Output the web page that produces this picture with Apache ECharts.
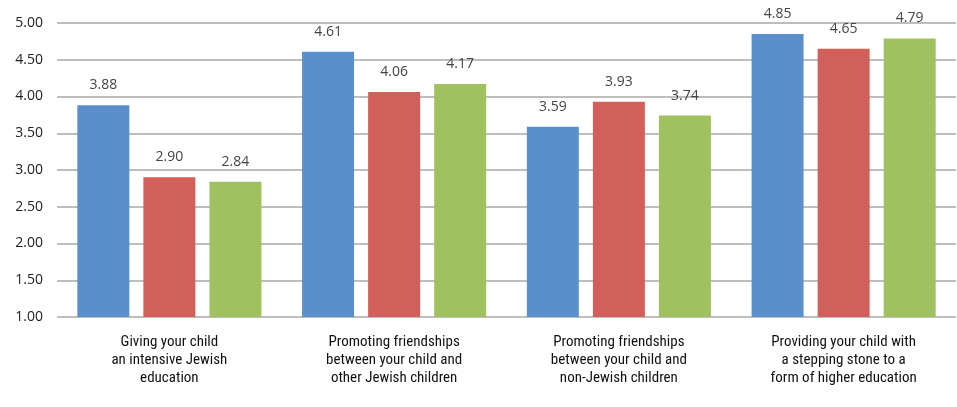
<!DOCTYPE html>
<html>
<head>
<meta charset="utf-8">
<script src="https://cdn.jsdelivr.net/npm/echarts@6/dist/echarts.min.js"></script>
<style>html,body{margin:0;padding:0;background:#fff;}#c{width:957px;height:407px;}</style>
</head>
<body>
<div id="c"></div>
<script>
const categories = [
  "Giving your child\nan intensive Jewish\neducation",
  "Promoting friendships\nbetween your child and\nother Jewish children",
  "Promoting friendships\nbetween your child and\nnon-Jewish children",
  "Providing your child with\na stepping stone to a\nform of higher education"
];
const seriesA = [3.88, 4.61, 3.59, 4.85];
const seriesB = [2.90, 4.06, 3.93, 4.65];
const seriesC = [2.84, 4.17, 3.74, 4.79];
const colors = ["#5b8fcc", "#d2605a", "#a0c160"];

const chart = echarts.init(document.getElementById('c'), null, {renderer: 'canvas'});
const label = {
  show: true, position: 'top', distance: 13,
  fontFamily: 'Open Sans, Liberation Sans, sans-serif', fontSize: 14, color: '#444',
  formatter: p => p.value.toFixed(2)
};
const mk = (name, data, color) => ({
  name, type: 'bar', data, barWidth: 52, barGap: '27%',
  itemStyle: {color}, label
});
chart.setOption({
  animation: false,
  grid: {left: 57, right: 1, top: 23, bottom: 90, containLabel: false},
  xAxis: {
    type: 'category', data: categories,
    axisLine: {show: false}, axisTick: {show: false},
    axisLabel: {
      interval: 0, margin: 16, lineHeight: 18, fontSize: 15,
      fontFamily: '"Roboto Condensed", Roboto, sans-serif',
      color: '#111'
    }
  },
  yAxis: {
    type: 'value', min: 1, max: 5, interval: 0.5,
    axisLine: {show: false}, axisTick: {show: false},
    splitLine: {lineStyle: {color: '#a8a8a8', width: 1.5}},
    axisLabel: {
      margin: 14, fontSize: 14, color: '#222',
      fontFamily: 'Open Sans, Liberation Sans, sans-serif',
      formatter: v => v.toFixed(2)
    }
  },
  series: [mk('A', seriesA, colors[0]), mk('B', seriesB, colors[1]), mk('C', seriesC, colors[2])]
});
</script>
</body>
</html>
